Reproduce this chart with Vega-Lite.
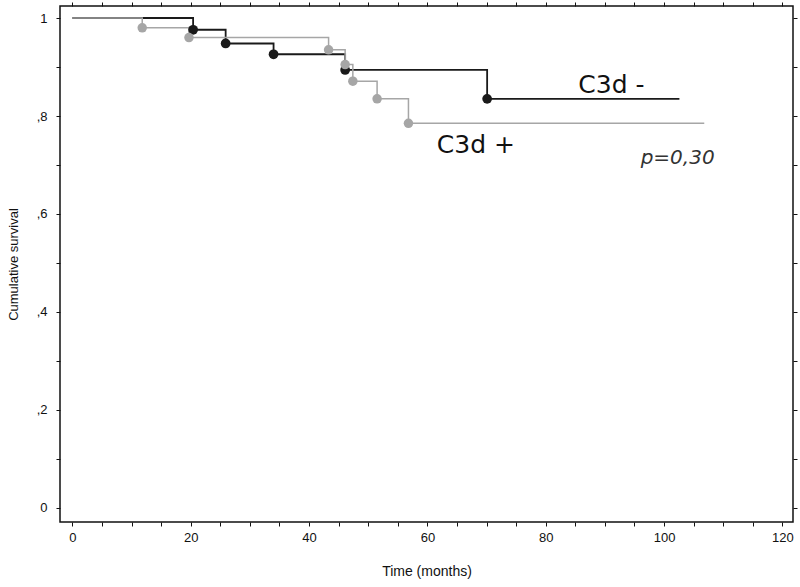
{
  "$schema": "https://vega.github.io/schema/vega-lite/v6.json",
  "width": 733,
  "height": 516,
  "autosize": "none",
  "padding": {"left": 60, "top": 6, "right": 7, "bottom": 65},
  "background": "white",
  "config": {
    "view": {"stroke": "#111", "strokeWidth": 1.5},
    "axis": {
      "domain": false,
      "grid": false,
      "tickColor": "#111",
      "tickSize": 4,
      "tickWidth": 1,
      "labelFont": "Liberation Sans Narrow, Liberation Sans, Arial",
      "labelFontSize": 13,
      "labelColor": "#111",
      "titleFont": "Liberation Sans Narrow, Liberation Sans, Arial",
      "titleFontSize": 14,
      "titleFontWeight": "normal",
      "titleColor": "#111"
    }
  },
  "datasets": {
    "km": [
      {"group": "neg", "month": 0, "surv": 1.0, "event": 0},
      {"group": "neg", "month": 20.4, "surv": 0.976, "event": 1},
      {"group": "neg", "month": 25.9, "surv": 0.948, "event": 1},
      {"group": "neg", "month": 34.0, "surv": 0.926, "event": 1},
      {"group": "neg", "month": 46.1, "surv": 0.894, "event": 1},
      {"group": "neg", "month": 70.1, "surv": 0.835, "event": 1},
      {"group": "neg", "month": 102.6, "surv": 0.835, "event": 0},
      {"group": "pos", "month": 0, "surv": 1.0, "event": 0},
      {"group": "pos", "month": 11.8, "surv": 0.980, "event": 1},
      {"group": "pos", "month": 19.7, "surv": 0.960, "event": 1},
      {"group": "pos", "month": 43.3, "surv": 0.935, "event": 1},
      {"group": "pos", "month": 46.1, "surv": 0.905, "event": 1},
      {"group": "pos", "month": 47.4, "surv": 0.871, "event": 1},
      {"group": "pos", "month": 51.5, "surv": 0.835, "event": 1},
      {"group": "pos", "month": 56.8, "surv": 0.785, "event": 1},
      {"group": "pos", "month": 106.8, "surv": 0.785, "event": 0}
    ],
    "labels": [
      {"label": "C3d -", "month": 91.1, "surv": 0.863},
      {"label": "C3d +", "month": 68.2, "surv": 0.741}
    ],
    "pval": [
      {"label": "p=0,30", "month": 102.3, "surv": 0.714}
    ]
  },
  "layer": [
    {
      "data": {"name": "km"},
      "mark": {"type": "line", "interpolate": "step-after"},
      "encoding": {
        "x": {
          "field": "month", "type": "quantitative",
          "scale": {"domain": [-2.1, 121.8], "nice": false, "zero": false},
          "axis": {
            "orient": "bottom",
            "title": "Time (months)",
            "values": [0,5,10,15,20,25,30,35,40,45,50,55,60,65,70,75,80,85,90,95,100,105,110,115,120],
            "labelExpr": "datum.value % 20 === 0 ? datum.label : ''",
            "labelPadding": 5,
            "titlePadding": 20
          }
        },
        "y": {
          "field": "surv", "type": "quantitative",
          "scale": {"domain": [-0.0286, 1.0245], "nice": false, "zero": false},
          "axis": {
            "orient": "left",
            "title": "Cumulative survival",
            "titleFontSize": 13,
            "values": [0,0.1,0.2,0.3,0.4,0.5,0.6,0.7,0.8,0.9,1],
            "labelExpr": "datum.value === 0 ? '0' : datum.value === 1 ? '1' : (round(datum.value*10) % 2 === 0 ? ',' + round(datum.value*10) : '')",
            "labelPadding": 9,
            "titlePadding": 16
          }
        },
        "color": {
          "field": "group", "type": "nominal",
          "scale": {"domain": ["neg", "pos"], "range": ["#1a1a1a", "#a6a6a6"]},
          "legend": null
        },
        "strokeWidth": {
          "field": "group", "type": "nominal",
          "scale": {"domain": ["neg", "pos"], "range": [1.8, 1.5]},
          "legend": null
        }
      }
    },
    {
      "data": {"name": "km"},
      "transform": [{"filter": "datum.event === 1"}],
      "mark": {"type": "circle", "opacity": 1},
      "encoding": {
        "x": {
          "field": "month", "type": "quantitative",
          "axis": {
            "orient": "top", "title": null, "labels": false,
            "values": [0,5,10,15,20,25,30,35,40,45,50,55,60,65,70,75,80,85,90,95,100,105,110,115,120]
          }
        },
        "y": {
          "field": "surv", "type": "quantitative",
          "axis": {
            "orient": "right", "title": null, "labels": false,
            "values": [0,0.1,0.2,0.3,0.4,0.5,0.6,0.7,0.8,0.9,1]
          }
        },
        "color": {"field": "group", "type": "nominal", "legend": null},
        "size": {
          "field": "group", "type": "nominal",
          "scale": {"domain": ["neg", "pos"], "range": [95, 90]},
          "legend": null
        }
      }
    },
    {
      "data": {"name": "labels"},
      "mark": {"type": "text", "font": "DejaVu Sans", "fontSize": 25, "color": "#111", "align": "center", "baseline": "middle"},
      "encoding": {
        "x": {"field": "month", "type": "quantitative", "axis": null},
        "y": {"field": "surv", "type": "quantitative", "axis": null},
        "text": {"field": "label"}
      }
    },
    {
      "data": {"name": "pval"},
      "mark": {"type": "text", "font": "DejaVu Sans", "fontSize": 20, "fontStyle": "italic", "color": "#333", "align": "center", "baseline": "middle"},
      "encoding": {
        "x": {"field": "month", "type": "quantitative", "axis": null},
        "y": {"field": "surv", "type": "quantitative", "axis": null},
        "text": {"field": "label"}
      }
    }
  ],
  "resolve": {"axis": {"x": "independent", "y": "independent"}}
}
